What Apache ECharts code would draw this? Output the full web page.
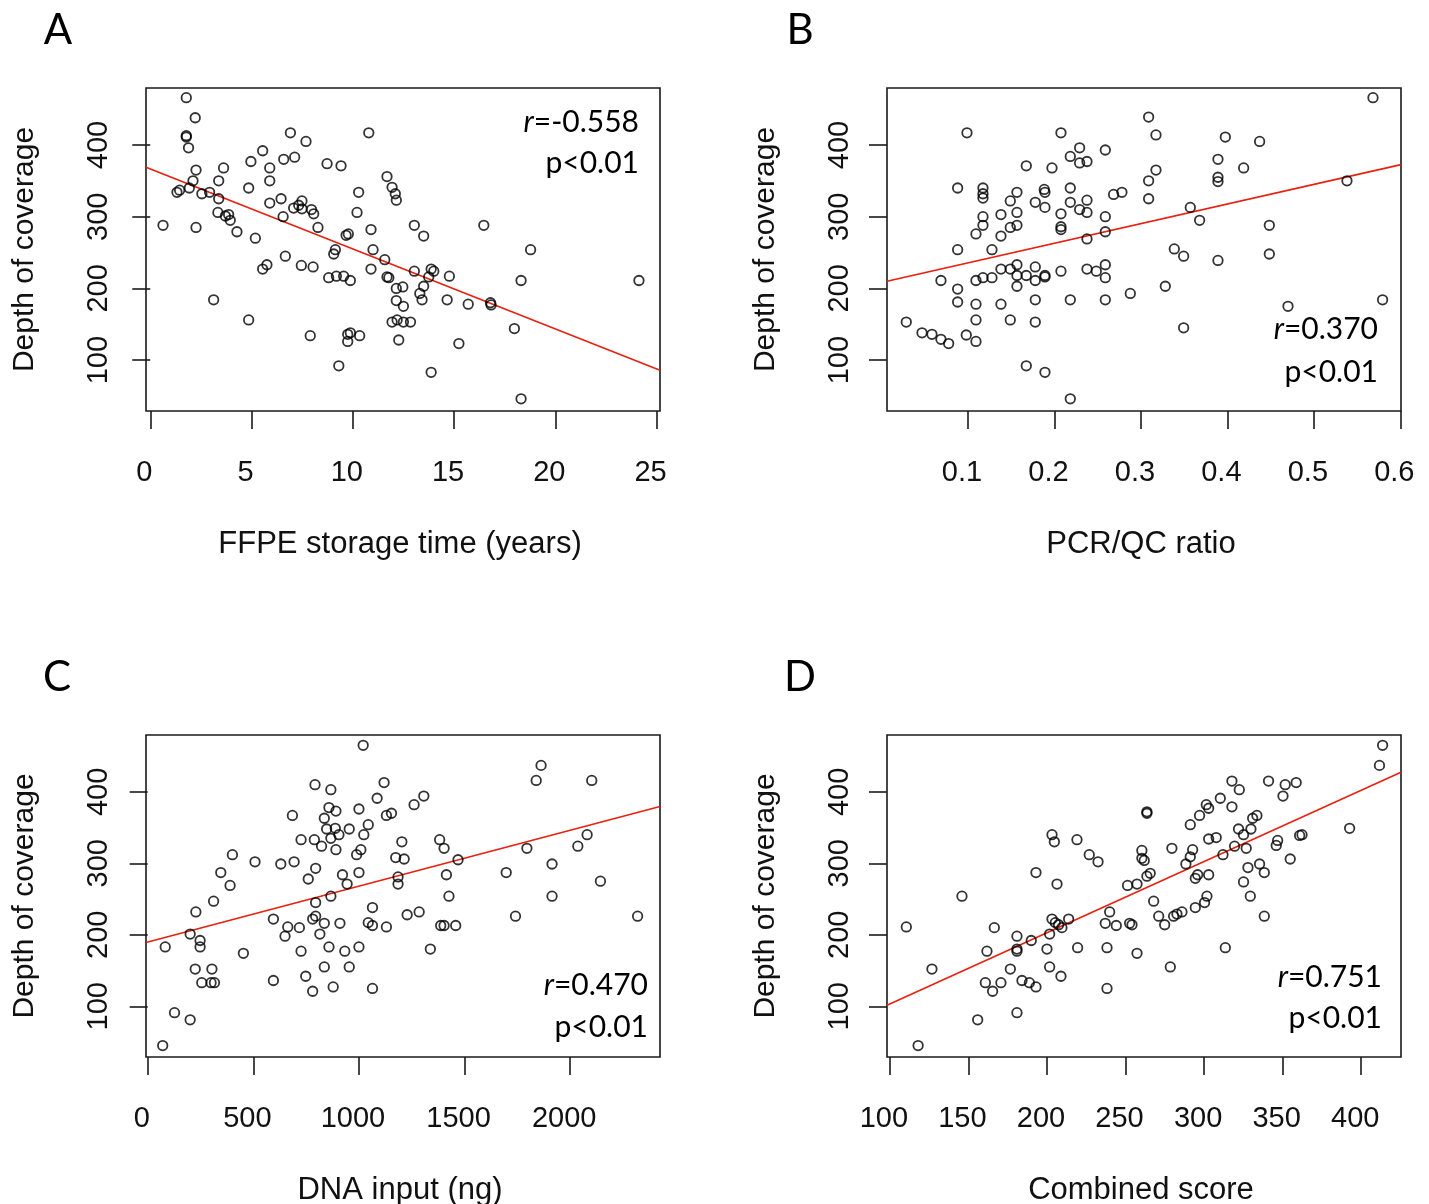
<!DOCTYPE html>
<html><head><meta charset="utf-8">
<script src="https://cdn.jsdelivr.net/npm/echarts@6/dist/echarts.min.js"></script>
<style>html,body{margin:0;padding:0;background:#fff}#c{width:1429px;height:1204px}</style>
</head><body><div id="c"></div>
<script>
// ---------- DATA ----------
const storageYears = [1.78,2.22,1.78,1.78,1.89,2.26,3.62,2.11,3.38,1.93,1.32,1.45,2.55,2.93,3.38,3.34,3.71,3.87,3.95,4.28,0.63,2.26,5.19,3.13,4.86,4.97,5.55,5.90,5.90,4.86,5.90,6.59,6.92,7.13,7.69,6.46,6.56,7.08,7.33,7.49,7.49,7.96,8.07,8.28,8.73,9.42,6.67,5.55,5.76,7.46,8.04,8.81,9.19,9.55,9.88,9.14,9.06,9.67,9.78,7.90,9.75,9.88,9.75,10.34,9.31,10.29,10.21,10.79,10.90,11.00,10.90,11.58,11.69,11.94,12.10,12.15,11.69,11.78,12.15,12.47,12.15,12.50,11.94,12.19,12.27,13.04,13.50,16.47,18.78,13.04,13.87,14.00,13.75,14.77,13.50,13.31,13.42,14.66,15.70,16.80,16.83,18.31,24.13,12.85,12.50,15.24,17.98,13.87,18.31];
const depthA = [466,438,413,411,396,365,368,350,350,340,334,337,332,334,325,306,301,303,295,279,288,285,270,184,156,377,392,368,350,340,319,380,417,383,405,325,300,312,316,322,311,310,304,285,374,371,245,227,233,232,230,215,217,217,211,254,248,274,276,134,136,138,126,134,92,334,306,417,282,254,227,240,356,341,332,323,216,215,200,202,183,175,153,156,128,288,273,288,254,224,227,224,216,217,203,193,184,184,178,180,177,211,211,153,153,123,144,83,46];

const pcrQcRatio = [0.0988,0.2075,0.2291,0.2183,0.2291,0.2376,0.2588,0.1674,0.1971,0.0880,0.1173,0.1173,0.1173,0.1566,0.1882,0.1890,0.2183,0.1489,0.1778,0.1890,0.1381,0.1566,0.2075,0.2183,0.2291,0.2376,0.2376,0.2588,0.2684,0.2780,0.1173,0.1173,0.1489,0.1566,0.1092,0.1381,0.2075,0.2075,0.2376,0.2588,0.0880,0.1277,0.0687,0.0880,0.1092,0.1173,0.1277,0.1381,0.1489,0.1566,0.1566,0.1674,0.1778,0.1778,0.1890,0.1890,0.1566,0.2075,0.2376,0.2484,0.2588,0.2588,0.2877,0.0880,0.1092,0.1381,0.1778,0.2183,0.2588,0.0286,0.1092,0.1489,0.1778,0.0468,0.0583,0.0687,0.0776,0.0980,0.1092,0.1674,0.1890,0.2183,0.5684,0.3089,0.3174,0.3976,0.4373,0.3891,0.4188,0.3174,0.3089,0.3891,0.3891,0.3089,0.5383,0.3571,0.3679,0.4485,0.3386,0.3494,0.3891,0.4485,0.3282,0.4701,0.5795,0.3494];
const depthB = [417,417,396,384,375,377,393,371,368,340,340,332,326,334,338,334,340,322,320,313,303,306,304,320,310,323,306,300,331,334,300,288,285,288,276,273,286,282,269,279,254,254,211,199,211,215,215,227,227,233,218,218,230,211,218,216,203,224,227,224,233,215,193,181,178,178,184,184,184,153,156,156,153,138,136,129,123,135,126,92,83,46,466,439,414,411,405,380,368,365,350,355,349,325,350,313,295,288,255,245,239,248,203,175,184,145];

const dnaInput = [1020,792,867,1119,1086,858,891,836,1000,1044,1130,1154,685,847,888,954,1023,905,867,823,726,789,891,1009,989,1203,1174,401,508,630,693,795,760,922,944,1000,1185,1185,346,390,312,228,867,795,1064,595,795,781,836,910,1044,1064,1130,663,718,650,815,201,248,248,83,453,858,933,1000,726,225,304,256,300,316,595,748,836,954,781,878,1064,127,201,71,1862,1839,2102,1307,1261,1382,1403,1469,1214,1414,1426,1228,1285,1387,1403,1458,1338,1697,1795,1914,1914,1741,2036,2080,2143,2319];
const depthC = [465,410,403,413,391,378,373,363,376,354,367,370,367,348,349,348,340,340,335,324,333,333,319,319,312,330,308,312,302,299,302,293,278,284,271,287,281,271,287,269,247,232,254,245,238,222,226,222,216,216,217,213,211,211,210,198,201,201,192,183,183,174,183,177,183,177,152,152,133,133,133,136,142,155,155,121,127,125,91,81,45,437,416,416,394,382,333,321,305,306,284,254,228,232,213,213,213,180,287,321,299,254,226,324,340,275,226];

const combinedScore = [110.5,126.8,118.0,145.9,166.5,161.8,155.9,160.8,165.4,170.7,176.7,180.9,180.9,180.9,180.9,184.1,188.8,193.0,190.0,193.0,200.0,201.7,201.7,208.9,203.2,204.7,206.4,203.2,205.3,207.4,209.5,213.8,219.1,219.5,226.9,232.5,239.9,237.1,244.1,252.6,254.1,238.2,238.2,257.3,251.3,257.3,263.6,263.6,260.4,261.9,260.4,263.6,265.7,267.9,271.1,274.9,280.6,282.7,285.9,294.4,300.3,301.8,278.5,313.5,279.5,288.4,291.2,292.7,294.4,295.9,302.9,291.2,297.1,301.4,302.9,302.9,307.7,310.3,317.7,322.4,317.7,312.0,319.4,321.9,325.1,326.8,329.8,330.9,333.6,327.9,325.1,335.3,338.3,329.4,338.3,341.0,351.6,350.2,358.6,346.8,345.9,360.8,362.3,354.8,392.6,413.6,411.6];
const depthD = [211,152,45,254,210,177,81,133,121,133,152,198,180,177,91,136,133,127,192,287,180,201,155,142,340,330,271,222,217,214,210,222,333,182,312,302,232,216,213,216,214,182,125,174,269,271,372,370,318,304,307,282,286,247,226,214,226,229,232,238,245,254,155,182,321,299,309,319,279,284,284,354,367,382,377,334,336,391,415,403,379,312,324,348,340,321,348,363,367,294,274,299,287,254,226,415,410,394,413,332,325,339,340,306,349,465,437];

const ticksA = [0,5,10,15,20,25];
const ticksB = [0.1,0.2,0.3,0.4,0.5,0.6];
const ticksC = [0,500,1000,1500,2000];
const ticksD = [100,150,200,250,300,350,400];
const depthTicks = [100,200,300,400];

const xNames = ['FFPE storage time (years)','PCR/QC ratio','DNA input (ng)','Combined score'];
const yName = 'Depth of coverage';
const panelLetters = ['A','B','C','D'];
const rValues = ['-0.558','0.370','0.470','0.751'];
const pText = 'p<0.01';

// ---------- helpers ----------
function fit(xs, ys){
  const n = xs.length; let mx=0,my=0;
  for(let i=0;i<n;i++){mx+=xs[i];my+=ys[i];}
  mx/=n; my/=n;
  let sxy=0,sxx=0;
  for(let i=0;i<n;i++){sxy+=(xs[i]-mx)*(ys[i]-my);sxx+=(xs[i]-mx)*(xs[i]-mx);}
  const b=sxy/sxx; return {a:my-b*mx,b:b};
}
const zip=(xs,ys)=>xs.map((x,i)=>[x,ys[i]]);

const panels = [
  {xs:storageYears, ys:depthA, ticks:ticksA, xr:[-0.21,25.17]},
  {xs:pcrQcRatio, ys:depthB, ticks:ticksB, xr:[0.0063,0.6008]},
  {xs:dnaInput, ys:depthC, ticks:ticksC, xr:[-8,2425]},
  {xs:combinedScore, ys:depthD, ticks:ticksD, xr:[98.2,425.3]}
];
const gridPos = [
  {left:146, top:88, width:514, height:323},
  {left:887, top:88, width:514, height:323},
  {left:146, top:735, width:514, height:322},
  {left:887, top:735, width:514, height:322}
];
const yRange = [29, 479.5];
const axisFont = 'Liberation Sans, Arial, sans-serif';
const annFont = 'Lato, sans-serif';
const tickStyle = {color:'#1a1a1a', width:1.6};

const grid=[], xAxis=[], yAxis=[], series=[];
panels.forEach((p,i)=>{
  grid.push(Object.assign({show:true, borderColor:'#1a1a1a', borderWidth:1.6, backgroundColor:'transparent', outerBoundsMode:'none', containLabel:false}, gridPos[i]));
  xAxis.push({
    type:'value', gridIndex:i, min:p.xr[0], max:p.xr[1],
    name:xNames[i], nameLocation:'middle', nameGap:118, nameMoveOverlap:false,
    nameTextStyle:{fontSize:31, fontFamily:axisFont, color:'#111', padding:[0,6,0,0]},
    axisLine:{show:false}, splitLine:{show:false},
    axisTick:{show:true, inside:false, length:18, lineStyle:tickStyle, customValues:p.ticks},
    axisLabel:{show:true, customValues:p.ticks, margin:47, fontSize:29, fontFamily:axisFont, color:'#111', padding:[0,12,0,0], formatter:v=>String(v), hideOverlap:false}
  });
  yAxis.push({
    type:'value', gridIndex:i, min:yRange[0], max:yRange[1],
    name:yName, nameLocation:'middle', nameGap:106, nameRotate:90, nameMoveOverlap:false,
    nameTextStyle:{fontSize:30, fontFamily:axisFont, color:'#111'},
    axisLine:{show:false}, splitLine:{show:false},
    axisTick:{show:true, inside:false, length:18, lineStyle:tickStyle, customValues:depthTicks},
    axisLabel:{show:true, customValues:depthTicks, rotate:90, margin:33, fontSize:29, fontFamily:axisFont, color:'#111', formatter:v=>String(v), hideOverlap:false}
  });
  series.push({
    type:'scatter', xAxisIndex:i, yAxisIndex:i, data:zip(p.xs,p.ys),
    symbol:'circle', symbolSize:9.5, silent:true,
    itemStyle:{color:'rgba(0,0,0,0)', borderColor:'#000', borderWidth:1.8},
    emphasis:{disabled:true}, z:3
  });
  const f = fit(p.xs,p.ys);
  series.push({
    type:'line', xAxisIndex:i, yAxisIndex:i, silent:true, symbol:'none',
    data:[[p.xr[0], f.a+f.b*p.xr[0]],[p.xr[1], f.a+f.b*p.xr[1]]],
    lineStyle:{color:'#e8200f', width:1.6}, emphasis:{disabled:true}, z:2, clip:true
  });
});

// annotation positions
const letterPos = [[58,30],[800,30],[57,677],[800,677]];
const annPos = [[639,122,163],[1378,329,372],[648,985,1027],[1382,977,1018]];
const graphic = [];
panelLetters.forEach((L,i)=>{
  graphic.push({type:'text', x:letterPos[i][0], y:letterPos[i][1], silent:true,
    style:{text:L, fontSize:42, fontFamily:annFont, fill:'#000', align:'center', verticalAlign:'middle'}});
});
rValues.forEach((r,i)=>{
  graphic.push({type:'text', x:annPos[i][0], y:annPos[i][1], silent:true,
    style:{text:'{i|r}{n|='+r+'}', align:'right', verticalAlign:'middle', fill:'#000',
      rich:{i:{fontStyle:'italic', fontSize:30, fontFamily:annFont, fill:'#000'}, n:{fontSize:30, fontFamily:annFont, fill:'#000'}}}});
  graphic.push({type:'text', x:annPos[i][0], y:annPos[i][2], silent:true,
    style:{text:pText, fontSize:30, fontFamily:annFont, fill:'#000', align:'right', verticalAlign:'middle'}});
});

const chart = echarts.init(document.getElementById('c'), null, {renderer:'canvas'});
chart.setOption({animation:false, backgroundColor:'#fff', grid, xAxis, yAxis, series, graphic});
</script>
</body></html>
